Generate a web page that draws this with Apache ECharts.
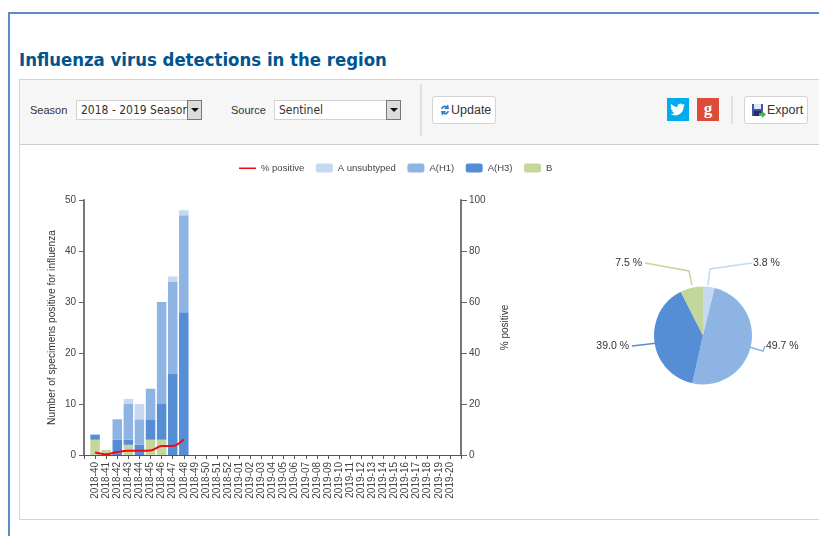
<!DOCTYPE html>
<html>
<head>
<meta charset="utf-8">
<title>Influenza virus detections in the region</title>
<script src="https://cdn.jsdelivr.net/npm/echarts@6/dist/echarts.min.js"></script>
<style>
html, body { margin: 0; padding: 0; background: #fff; overflow: hidden; }
body { width: 819px; height: 536px; position: relative; font-family: "Liberation Sans", sans-serif; color: #333; }
.frame, .panel, .bar, .lbl, .sel, .arrow, .btn, .sep, .social { position: absolute; box-sizing: border-box; }
.frame { left: 8px; top: 12px; width: 830px; height: 560px; border: 2px solid #5b8bc9; border-right: 0; border-bottom: 0; }
h1 { position: absolute; left: 19px; top: 49px; margin: 0; font: bold 18.4px "DejaVu Sans Condensed", "DejaVu Sans", sans-serif; font-stretch: condensed; color: #00548f; white-space: nowrap; }
.panel { left: 19px; top: 79px; width: 820px; height: 441px; border: 1px solid #d4d4d4; border-right: 0; }
.bar { left: 20px; top: 80px; width: 799px; height: 65px; background: #f6f6f6; border-bottom: 1px solid #cfcfcf; }
.lbl { font-size: 11px; top: 104px; color: #333; }
.sel { top: 100px; height: 20px; background: #fff; border: 1px solid #d2d2d2; font: 12px/18px "DejaVu Sans Condensed", "DejaVu Sans", sans-serif; font-stretch: condensed; padding-left: 4px; white-space: nowrap; overflow: hidden; color: #333; }
.arrow { top: 100px; width: 15px; height: 20px; background: #dcdcdc; border: 1px solid #777; }
.arrow:after { content: ""; position: absolute; left: 3px; top: 7px; border: 4px solid transparent; border-top: 4px solid #111; border-bottom: 0; }
.btn { top: 96px; height: 28px; background: #fff; border: 1px solid #d4d4d4; border-radius: 3px; font-size: 12.5px; line-height: 26px; color: #333; white-space: nowrap; }
.btn svg { position: absolute; top: 6px; }
.sep { background: #e0e0e0; width: 2px; }
.social { top: 98px; height: 23px; width: 22px; }
#chart { position: absolute; left: 0; top: 0; width: 819px; height: 536px; }
</style>
</head>
<body>
<div class="frame"></div>
<h1>Influenza virus detections in the region</h1>
<div class="panel"></div>
<div class="bar"></div>
<div class="lbl" style="left:30px">Season</div>
<div class="sel" style="left:76px;width:126px">2018 - 2019 Season</div>
<div class="arrow" style="left:187px"></div>
<div class="lbl" style="left:231px">Source</div>
<div class="sel" style="left:274px;width:127px">Sentinel</div>
<div class="arrow" style="left:386px"></div>
<div class="sep" style="left:420px;top:84px;height:52px"></div>
<div class="btn" style="left:432px;width:64px;padding-left:18px">Update
  <svg style="left:6px" width="12" height="14" viewBox="0 0 12 14"><path d="M2 6a4 4 0 0 1 6-3l1-2 1 5-5 0 1.500-1.500a2.500 2.500 0 0 0-3 1.500z" fill="#2f7fd0"/><path d="M10 8a4 4 0 0 1-6 3l-1 2-1-5 5 0-1.500 1.500a2.500 2.500 0 0 0 3-1.500z" fill="#2f7fd0"/></svg>
</div>
<div class="social" style="left:667px;background:#00aced">
  <svg width="22" height="23" viewBox="0 0 22 23"><path d="M18 7c-.6.300-1.200.4-1.800.5.700-.4 1.100-1 1.300-1.700-.6.400-1.300.6-2 .8a3 3 0 0 0-5.100 2.700A8.500 8.500 0 0 1 4.200 6a3 3 0 0 0 .9 4c-.5 0-1-.1-1.400-.4 0 1.500 1 2.700 2.400 3-.4.100-.9.100-1.400 0 .4 1.200 1.500 2 2.800 2.100A6 6 0 0 1 3.500 16a8.500 8.500 0 0 0 13.100-7.500c.6-.4 1-.9 1.400-1.500z" fill="#fff"/></svg>
</div>
<div class="social" style="left:697px;background:#dd4b39;color:#fff;font:bold 17px/21px 'Liberation Serif',serif;text-align:center">g</div>
<div class="sep" style="left:731px;top:96px;height:28px"></div>
<div class="btn" style="left:744px;width:64px;padding-left:22px">Export
  <svg style="left:6px" width="15" height="15" viewBox="0 0 15 15"><rect x="1" y="1" width="11" height="12" fill="#3f55a5"/><rect x="3" y="1" width="7" height="5" fill="#dfe6f5"/><rect x="3" y="8" width="7" height="5" fill="#1f2f70"/><path d="M8 10h3V8l4 3.500-4 3.500v-2H8z" fill="#4caf50"/></svg>
</div>
<div id="chart"></div>
<script>
// weeks on the axis
var weeks = ['2018-40','2018-41','2018-42','2018-43','2018-44','2018-45','2018-46','2018-47','2018-48','2018-49','2018-50','2018-51','2018-52',
	'2019-01','2019-02','2019-03','2019-04','2019-05','2019-06','2019-07','2019-08','2019-09','2019-10','2019-11','2019-12','2019-13','2019-14',
	'2019-15','2019-16','2019-17','2019-18','2019-19','2019-20'];
// counts, only the weeks reported so far
var unsubtyped = [0, 0, 0, 1, 3, 0, 0, 1, 1];
var h1 = [0, 0, 4, 7, 5, 6, 20, 18, 19];
var h3 = [1, 0, 3, 1, 2, 4, 7, 16, 28];
var b = [3, 1, 0, 2, 0, 3, 3, 0, 0];
var positive = [1.0, 0.3, 1.2, 1.7, 1.7, 1.8, 3.5, 3.5, 6.1];
// share of each type, same order as the pie
var pieNames = ['A unsubtyped', 'A(H1)', 'A(H3)', 'B'];
var pieValues = [3.8, 49.7, 39.0, 7.5];
var colors = ['#c6d9f1', '#8eb4e3', '#558ed5', '#c3d69b'];
// pie label anchors and their leader lines
var pieLabelPos = [
	{ x: 753, y: 263, align: 'left', line: [[708, 285], [710, 269], [752, 263]] },
	{ x: 766, y: 346, align: 'left', line: [[749, 347], [763, 351], [765, 346]] },
	{ x: 629, y: 346, align: 'right', line: [[657, 343], [645, 344.500], [632, 346]] },
	{ x: 642, y: 263, align: 'right', line: [[692, 285], [689, 271], [645, 263]] }
];

// axis runs half a band past the first and last week, so pad with an empty slot
var padded = [''].concat(weeks, ['']);
function pad(arr) {
	return [null].concat(arr);
}
function barSeries(name, values, color) {
	return { name: name, type: 'bar', stack: 'flu', barWidth: 9.5, data: pad(values), itemStyle: { color: color } };
}

var textColor = '#444';
var red = '#f00a14';
var font = 'Liberation Sans';
var pieData = [];
for (var i in pieNames) {
	pieData.push({ name: pieNames[i], value: pieValues[i], itemStyle: { color: colors[i] } });
}

var myChart = echarts.init(document.getElementById('chart'));
var option = {
	animation: false,
	backgroundColor: 'transparent',
	textStyle: { fontFamily: font, fontSize: 10, color: textColor },
	legend: {
		left: 234, top: 158,
		itemWidth: 17, itemHeight: 9, itemGap: 11.5,
		textStyle: { fontFamily: font, fontSize: 9.5, color: textColor },
		data: [
			// thin bar inside a full height box, the line swatch has no marker
			{ name: '% positive', icon: 'path://M0 0L0 0M0 4h17v1.500H0zM17 9L17 9', itemStyle: { color: red } },
			'A unsubtyped', 'A(H1)', 'A(H3)', 'B'
		]
	},
	grid: { left: 84, top: 200, width: 377, height: 255 },
	xAxis: {
		type: 'category',
		data: padded,
		boundaryGap: false,
		axisLine: { lineStyle: { color: '#555', width: 1 } },
		axisTick: { show: true, interval: 0, length: 4, lineStyle: { color: '#555' } },
		axisLabel: { interval: 0, rotate: 90, margin: 7, color: textColor, fontFamily: font, fontSize: 10 }
	},
	yAxis: [{
		type: 'value', min: 0, max: 50, interval: 10,
		name: 'Number of specimens positive for influenza',
		nameLocation: 'middle', nameGap: 27,
		nameTextStyle: { color: '#333', fontFamily: font, fontSize: 10.2 },
		axisLine: { show: true, lineStyle: { color: '#777', width: 2 } },
		axisTick: { show: true, length: 5, lineStyle: { color: '#666' } },
		axisLabel: { margin: 8, color: textColor, fontFamily: font, fontSize: 10 },
		splitLine: { show: false }
	}, {
		type: 'value', min: 0, max: 100, interval: 20, position: 'right',
		name: '% positive',
		nameLocation: 'middle', nameGap: 39,
		nameTextStyle: { color: '#333', fontFamily: font, fontSize: 10 },
		axisLine: { show: true, lineStyle: { color: '#777', width: 2 } },
		axisTick: { show: true, length: 6, lineStyle: { color: '#666' } },
		axisLabel: { margin: 8, color: textColor, fontFamily: font, fontSize: 10 },
		splitLine: { show: false }
	}],
	series: [
		barSeries('B', b, colors[3]),
		barSeries('A(H3)', h3, colors[2]),
		barSeries('A(H1)', h1, colors[1]),
		barSeries('A unsubtyped', unsubtyped, colors[0]),
		{
			name: '% positive', type: 'line', yAxisIndex: 1, smooth: 0.3,
			symbol: 'none', z: 5, data: pad(positive),
			itemStyle: { color: red },
			lineStyle: { color: red, width: 2 }
		},
		{
			type: 'pie',
			center: [703, 335.5],
			radius: 49,
			startAngle: 90,
			clockwise: true,
			data: pieData,
			label: {
				color: '#333', fontFamily: font, fontSize: 10.5, overflow: 'none',
				formatter: function(p) { return p.value.toFixed(1) + ' %'; }
			},
			labelLine: { show: true, length: 12, length2: 12, smooth: false, lineStyle: { width: 1.5 } },
			labelLayout: function(p) {
				var pos = pieLabelPos[p.dataIndex];
				return { x: pos.x, y: pos.y, align: pos.align, verticalAlign: 'middle', labelLinePoints: pos.line };
			}
		}
	]
};
myChart.setOption(option);
</script>
</body>
</html>
